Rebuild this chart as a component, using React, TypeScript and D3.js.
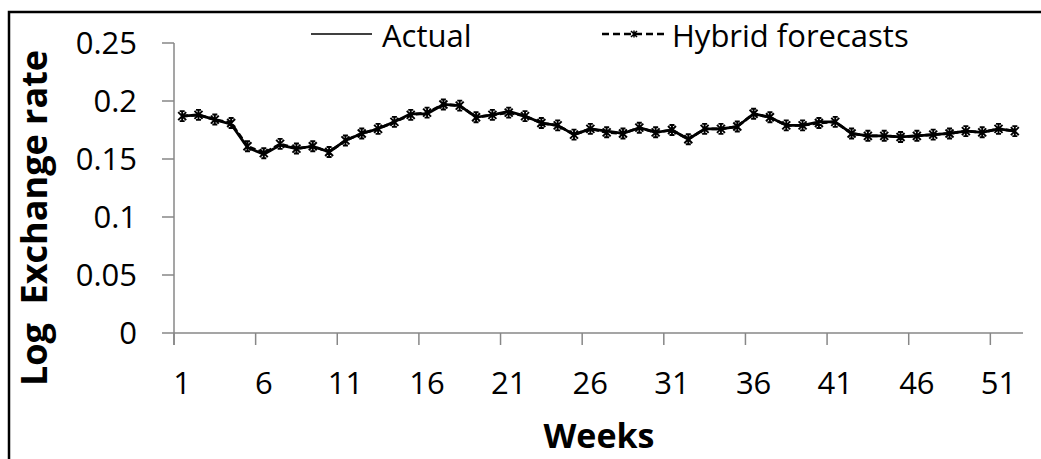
import React, { useRef, useEffect } from "react";
import * as d3 from "d3";

const weeks = [
  1, 2, 3, 4, 5, 6, 7, 8, 9, 10, 11, 12, 13, 14, 15, 16, 17, 18, 19, 20, 21, 22, 23, 24, 25, 26,
  27, 28, 29, 30, 31, 32, 33, 34, 35, 36, 37, 38, 39, 40, 41, 42, 43, 44, 45, 46, 47, 48, 49, 50, 51, 52,
];

const actual = [
  0.187, 0.188, 0.184, 0.18, 0.16, 0.154, 0.162, 0.159, 0.161, 0.156, 0.166, 0.172, 0.176,
  0.182, 0.189, 0.189, 0.197, 0.196, 0.186, 0.188, 0.191, 0.187, 0.181, 0.179, 0.171, 0.176,
  0.174, 0.172, 0.177, 0.173, 0.175, 0.167, 0.176, 0.176, 0.178, 0.189, 0.186, 0.179, 0.179,
  0.182, 0.182, 0.172, 0.17, 0.17, 0.169, 0.17, 0.171, 0.172, 0.174, 0.173, 0.176, 0.174,
];

const hybrid = [
  0.187, 0.188, 0.184, 0.181, 0.161, 0.155, 0.163, 0.159, 0.161, 0.156, 0.166, 0.172, 0.176,
  0.182, 0.188, 0.19, 0.197, 0.196, 0.186, 0.188, 0.19, 0.187, 0.181, 0.179, 0.171, 0.176,
  0.173, 0.172, 0.177, 0.173, 0.175, 0.167, 0.176, 0.176, 0.178, 0.189, 0.186, 0.179, 0.179,
  0.181, 0.182, 0.172, 0.17, 0.17, 0.169, 0.17, 0.171, 0.172, 0.174, 0.173, 0.176, 0.174,
];

const yTicks = [0, 0.05, 0.1, 0.15, 0.2, 0.25];
const xLabelWeeks = [1, 6, 11, 16, 21, 26, 31, 36, 41, 46, 51];

const FONT = "'Open Sans', 'Noto Sans', sans-serif";
const AXIS = "#878787";
const STAR = "M-4,-4L4,4M-4,4L4,-4M0,-5L0,5M-2.5,-5L2.5,-5M-2.5,5L2.5,5";

const App: React.FC = () => {
  const svgRef = useRef<SVGSVGElement>(null);

  useEffect(() => {
    const svg = d3.select(svgRef.current);
    svg.selectAll("*").remove();
    const width = 1041;
    const height = 459;
    const margin = { top: 43, right: 18, bottom: 126, left: 174 };

    const x = d3
      .scaleBand<number>()
      .domain(weeks)
      .range([margin.left, width - margin.right])
      .padding(0);
    const cx = (w: number) => x(w)! + x.bandwidth() / 2;

    const y = d3
      .scaleLinear()
      .domain([0, 0.25])
      .range([height - margin.bottom, margin.top]);

    // frame
    svg
      .append("path")
      .attr("d", `M9,${height}V12H${width}`)
      .attr("fill", "none")
      .attr("stroke", "#000")
      .attr("stroke-width", 2.5);

    // y axis
    const gy = svg.append("g");
    gy.append("line")
      .attr("x1", margin.left)
      .attr("x2", margin.left)
      .attr("y1", y(0.25))
      .attr("y2", y(0) + 12)
      .attr("stroke", AXIS)
      .attr("stroke-width", 1.5);
    yTicks.forEach((t) => {
      gy.append("line")
        .attr("x1", margin.left - 12)
        .attr("x2", margin.left)
        .attr("y1", y(t))
        .attr("y2", y(t))
        .attr("stroke", AXIS)
        .attr("stroke-width", 1.5);
      gy.append("text")
        .attr("x", 137)
        .attr("y", y(t))
        .attr("dy", "0.36em")
        .attr("text-anchor", "end")
        .style("font-family", FONT)
        .style("font-size", "31px")
        .attr("fill", "#000")
        .text(String(t));
    });

    // x axis
    const gx = svg.append("g");
    gx.append("line")
      .attr("x1", margin.left)
      .attr("x2", width - margin.right)
      .attr("y1", y(0))
      .attr("y2", y(0))
      .attr("stroke", AXIS)
      .attr("stroke-width", 1.5);
    xLabelWeeks.forEach((w) => {
      gx.append("line")
        .attr("x1", x(w)!)
        .attr("x2", x(w)!)
        .attr("y1", y(0))
        .attr("y2", y(0) + 12)
        .attr("stroke", AXIS)
        .attr("stroke-width", 1.5);
      gx.append("text")
        .attr("x", cx(w))
        .attr("y", 394)
        .attr("text-anchor", "middle")
        .style("font-family", FONT)
        .style("font-size", "31px")
        .attr("fill", "#000")
        .text(String(w));
    });

    // axis titles
    svg
      .append("text")
      .attr("transform", `translate(47,218) rotate(-90)`)
      .attr("text-anchor", "middle")
      .style("font-family", FONT)
      .style("font-size", "36px")
      .style("font-weight", "bold")
      .style("white-space", "pre")
      .attr("fill", "#000")
      .text("Log  Exchange rate");
    svg
      .append("text")
      .attr("x", 599)
      .attr("y", 448)
      .attr("text-anchor", "middle")
      .style("font-family", FONT)
      .style("font-size", "34px")
      .style("font-weight", "bold")
      .attr("fill", "#000")
      .text("Weeks");

    // series
    const line = d3
      .line<number>()
      .x((_, i) => cx(weeks[i]))
      .y((d) => y(d));

    svg
      .append("path")
      .datum(actual)
      .attr("d", line)
      .attr("fill", "none")
      .attr("stroke", "#000")
      .attr("stroke-width", 2.75)
      .attr("stroke-linejoin", "round");

    svg
      .append("path")
      .datum(hybrid)
      .attr("d", line)
      .attr("fill", "none")
      .attr("stroke", "#000")
      .attr("stroke-width", 2.75)
      .attr("stroke-dasharray", "6,3");

    svg
      .selectAll(".star")
      .data(hybrid)
      .enter()
      .append("path")
      .attr("class", "star")
      .attr("d", STAR)
      .attr("transform", (d, i) => `translate(${cx(weeks[i])},${y(d)})`)
      .attr("fill", "none")
      .attr("stroke", "#000")
      .attr("stroke-width", 1.9);

    // legend
    const lg = svg.append("g");
    lg.append("line")
      .attr("x1", 311)
      .attr("x2", 372)
      .attr("y1", 34)
      .attr("y2", 34)
      .attr("stroke", "#000")
      .attr("stroke-width", 1.5);
    lg.append("text")
      .attr("x", 382)
      .attr("y", 47)
      .style("font-family", FONT)
      .style("font-size", "31px")
      .attr("fill", "#000")
      .text("Actual");
    lg.append("line")
      .attr("x1", 602)
      .attr("x2", 667)
      .attr("y1", 34)
      .attr("y2", 34)
      .attr("stroke", "#000")
      .attr("stroke-width", 2.5)
      .attr("stroke-dasharray", "7,4");
    lg.append("path")
      .attr("d", "M-3,-3L3,3M-3,3L3,-3M0,-3.5L0,3.5")
      .attr("transform", "translate(634,34)")
      .attr("fill", "none")
      .attr("stroke", "#000")
      .attr("stroke-width", 1.5);
    lg.append("text")
      .attr("x", 672)
      .attr("y", 47)
      .style("font-family", FONT)
      .style("font-size", "31px")
      .attr("fill", "#000")
      .text("Hybrid forecasts");
  }, []);

  return (
    <svg
      ref={svgRef}
      width={1041}
      height={459}
      style={{ position: "absolute", left: 0, top: 0, background: "#fff" }}
    ></svg>
  );
};

export default App;
